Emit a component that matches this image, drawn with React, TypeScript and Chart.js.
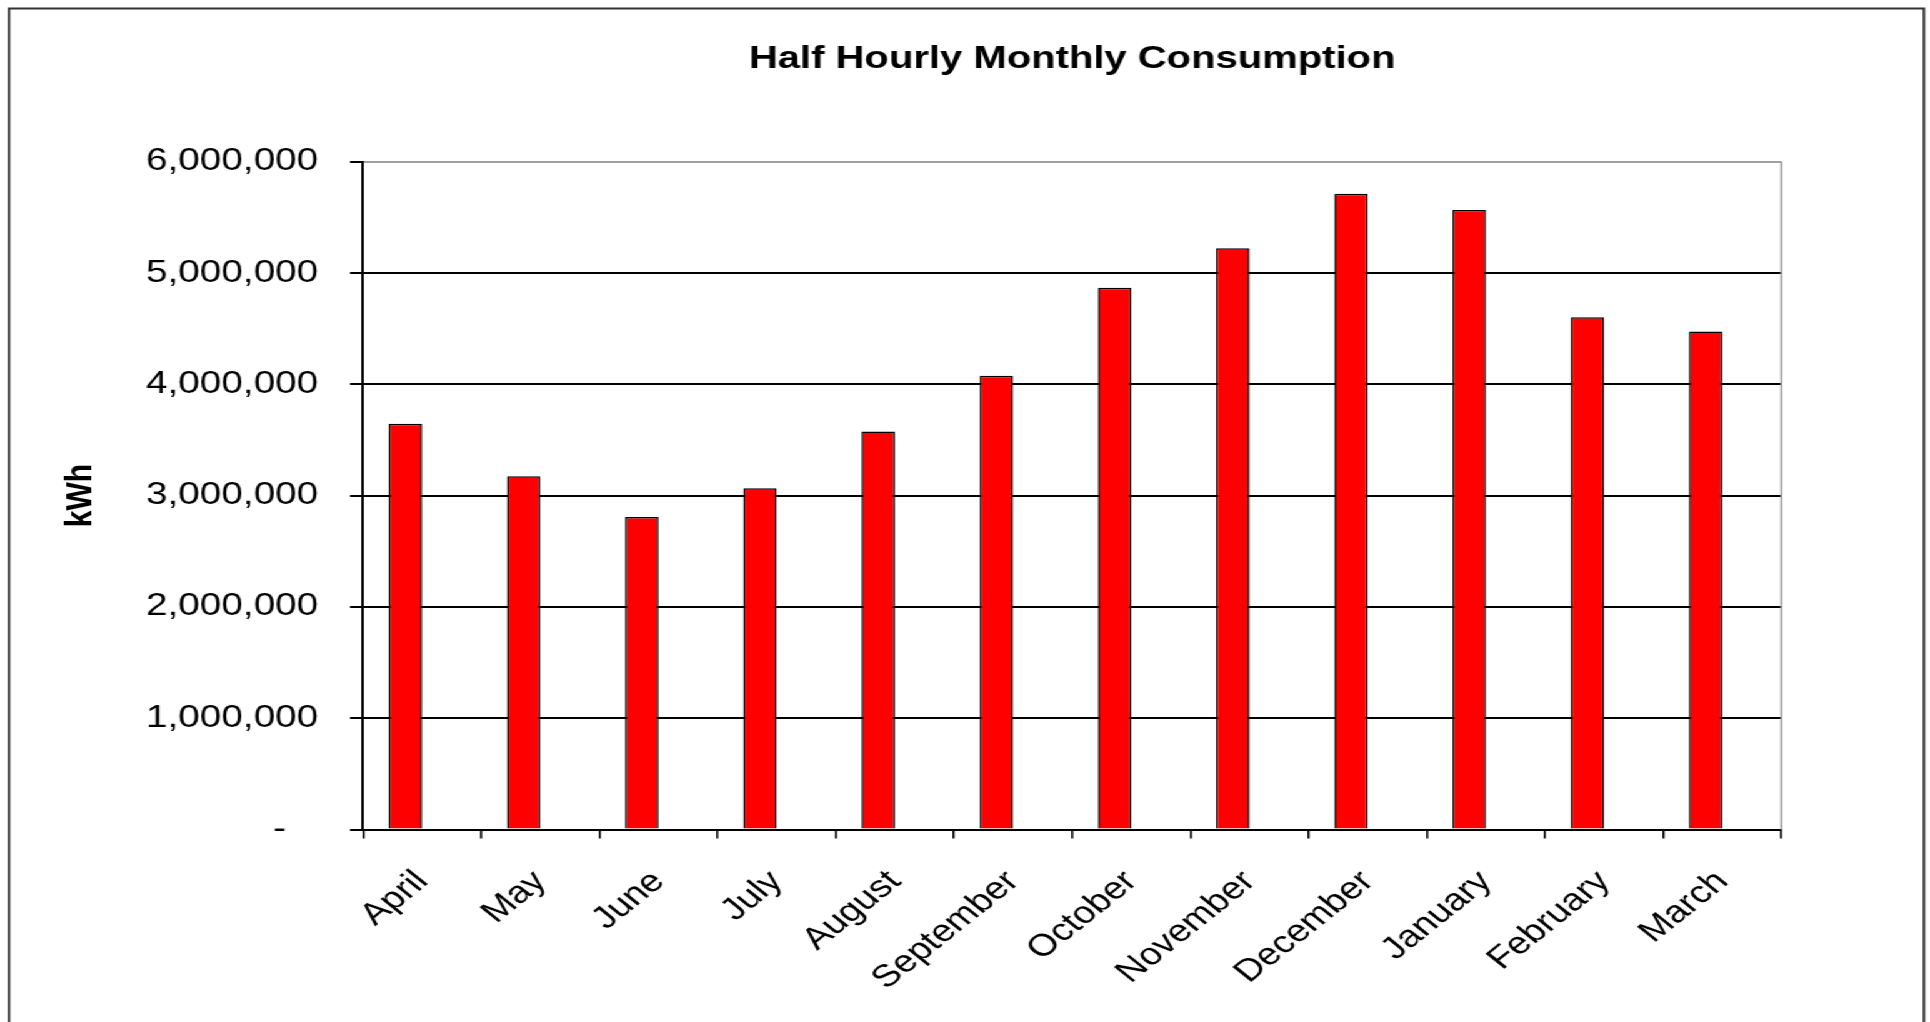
import React, { useEffect, useRef } from 'react';
import { Chart, registerables } from 'chart.js';

Chart.register(...registerables);

// The reference image is horizontally stretched; draw at narrower width and stretch.
const STRETCH = 1.25;
const WIDTH = 1930 / STRETCH;
const HEIGHT = 1022;

const months = [
  'April', 'May', 'June', 'July', 'August', 'September',
  'October', 'November', 'December', 'January', 'February', 'March',
];

const consumptionKWh = [
  3646000, 3173000, 2808000, 3066000, 3575000, 4077000,
  4867000, 5223000, 5711000, 5567000, 4603000, 4475000,
];

// Second (empty) series from the source workbook – keeps bars left of centre.
const emptySeries: (number | null)[] = [
  null, null, null, null, null, null, null, null, null, null, null, null,
];

const yMin = 0;
const yMax = 6000000;
const yStep = 1000000;

const FONT = "'Liberation Sans', Arial, sans-serif";

const PLOT_LEFT = 363 / STRETCH;
const PLOT_RIGHT = 1781.5 / STRETCH;
const PLOT_BOTTOM = 829.5;
const PAD_LEFT = 42.8;

const framePlugin = {
  id: 'frame',
  beforeDraw(chart: any) {
    const ctx = chart.ctx;
    ctx.save();
    ctx.fillStyle = '#ffffff';
    ctx.fillRect(0, 0, chart.width, chart.height);
    ctx.strokeStyle = '#333333';
    ctx.lineWidth = 2;
    ctx.strokeRect(9 / STRETCH, 8.5, 1915 / STRETCH, HEIGHT + 20);
    ctx.restore();
  },
  afterDraw(chart: any) {
    const { ctx, chartArea } = chart;
    ctx.save();
    ctx.strokeStyle = '#a0a0a0';
    ctx.lineWidth = 1.6;
    ctx.beginPath();
    ctx.moveTo(chartArea.right, chartArea.top);
    ctx.lineTo(chartArea.right, chartArea.bottom);
    ctx.stroke();
    ctx.restore();
  },
};

export default function App() {
  const ref = useRef<HTMLCanvasElement>(null);

  useEffect(() => {
    const canvas = ref.current;
    if (!canvas) return;
    const chart = new Chart(canvas, {
      type: 'bar',
      data: {
        labels: months,
        datasets: [
          {
            label: 'Half Hourly Consumption (kWh)',
            data: consumptionKWh,
            backgroundColor: '#ff0000',
            borderColor: '#000000',
            borderWidth: 1.5,
            categoryPercentage: 0.565,
            barPercentage: 1,
          },
          {
            label: 'Series 2',
            data: emptySeries,
            backgroundColor: '#ff0000',
            borderColor: '#000000',
            borderWidth: 1.5,
            categoryPercentage: 0.565,
            barPercentage: 1,
          },
        ],
      },
      options: {
        animation: false,
        responsive: true,
        maintainAspectRatio: false,
        devicePixelRatio: 1,
        layout: {
          padding: { left: PAD_LEFT, right: WIDTH - PLOT_RIGHT, top: 0, bottom: 0 },
        },
        plugins: {
          legend: { display: false },
          tooltip: { enabled: false },
          title: {
            display: true,
            text: 'Half Hourly Monthly Consumption',
            color: '#000000',
            fullSize: false,
            font: { family: FONT, size: 32, weight: 'bold' },
            padding: { top: 39.6, bottom: 83.7 },
          },
        },
        scales: {
          x: {
            type: 'category',
            offset: true,
            grid: {
              offset: true,
              drawOnChartArea: false,
              drawTicks: true,
              tickLength: 9,
              tickColor: '#000000',
              tickWidth: 1.6,
              lineWidth: 1.6,
            },
            border: { color: '#000000', width: 2 },
            ticks: {
              autoSkip: false,
              minRotation: 45,
              maxRotation: 45,
              padding: 25,
              color: '#000000',
              font: { family: FONT, size: 31 },
            },
            afterFit(scale: any) {
              scale.height = HEIGHT - PLOT_BOTTOM;
            },
          },
          y: {
            position: 'left',
            min: yMin,
            max: yMax,
            grid: {
              color: (c: any) => (c.tick && c.tick.value === yMax ? '#a0a0a0' : '#000000'),
              lineWidth: 2,
              tickLength: 10.4,
              tickColor: '#000000',
              tickWidth: 2,
            },
            border: { color: '#000000', width: 2 },
            ticks: {
              stepSize: yStep,
              padding: 25.4,
              color: '#000000',
              font: { family: FONT, size: 31 },
              callback: (v: any) => (Number(v) === 0 ? '-   ' : Number(v).toLocaleString('en-US')),
            },
            title: {
              display: true,
              text: 'kWh',
              color: '#000000',
              font: { family: FONT, size: 30, weight: 'bold' },
              padding: { top: 4, bottom: 0 },
            },
            afterFit(scale: any) {
              scale.width = PLOT_LEFT - PAD_LEFT;
            },
          },
        },
      },
      plugins: [framePlugin],
    });
    return () => chart.destroy();
  }, []);

  return (
    <div
      style={{
        position: 'absolute',
        left: 0,
        top: 0,
        width: WIDTH,
        height: HEIGHT,
        transform: `scaleX(${STRETCH})`,
        transformOrigin: '0 0',
        background: '#ffffff',
      }}
    >
      <canvas ref={ref} />
    </div>
  );
}
